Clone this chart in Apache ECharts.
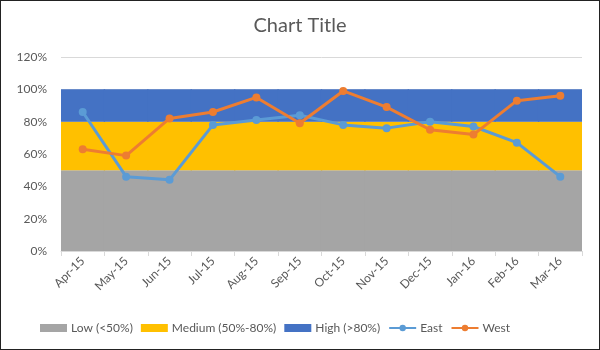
<!DOCTYPE html>
<html>
<head>
<meta charset="utf-8">
<script src="https://cdn.jsdelivr.net/npm/echarts@6/dist/echarts.min.js"></script>
<style>
  html, body { margin: 0; padding: 0; background: #fff; }
  #chart { width: 598px; height: 348px; border: 1px solid #222; background: #fff; }
</style>
</head>
<body>
<div id="chart"></div>
<script>
// Months on the category axis
const months = ['Apr-15', 'May-15', 'Jun-15', 'Jul-15', 'Aug-15', 'Sep-15',
                'Oct-15', 'Nov-15', 'Dec-15', 'Jan-16', 'Feb-16', 'Mar-16'];

// Background bands (stacked): 0-50%, 50-80%, 80-100%
const lowBand = [0.5, 0.5, 0.5, 0.5, 0.5, 0.5, 0.5, 0.5, 0.5, 0.5, 0.5, 0.5];
const mediumBand = [0.3, 0.3, 0.3, 0.3, 0.3, 0.3, 0.3, 0.3, 0.3, 0.3, 0.3, 0.3];
const highBand = [0.2, 0.2, 0.2, 0.2, 0.2, 0.2, 0.2, 0.2, 0.2, 0.2, 0.2, 0.2];

// Regional scores
const east = [0.86, 0.46, 0.44, 0.78, 0.81, 0.84, 0.78, 0.76, 0.80, 0.77, 0.67, 0.46];
const west = [0.63, 0.59, 0.82, 0.86, 0.95, 0.79, 0.99, 0.89, 0.75, 0.72, 0.93, 0.96];

// Value axis ticks
const yTicks = { min: 0, max: 1.2, interval: 0.2 };

const FONT = 'Lato, "Open Sans", sans-serif';
const TEXT = '#595959';

const chart = echarts.init(document.getElementById('chart'), null, { renderer: 'canvas' });

// Stacked columns slightly wider than a category so neighbours overlap with no seams
function band(name, data, color) {
  return {
    name, type: 'bar', stack: 'bands', data,
    barWidth: '103%',
    itemStyle: { color },
    emphasis: { disabled: true },
    silent: true
  };
}

function line(name, data, color) {
  return {
    name, type: 'line', data,
    symbol: 'circle', symbolSize: 8,
    lineStyle: { width: 3, color },
    itemStyle: { color },
    z: 5
  };
}

chart.setOption({
  animation: false,
  title: {
    text: 'Chart Title',
    left: 'center', top: 10,
    textStyle: { fontFamily: FONT, fontSize: 20, fontWeight: 'normal', color: TEXT }
  },
  legend: {
    bottom: 10,
    left: 34,
    itemWidth: 27, itemHeight: 8, itemGap: 8,
    textStyle: { fontFamily: FONT, fontSize: 12, color: TEXT, padding: [0, 0, 0, -1] },
    data: [
      { name: 'Low (<50%)', icon: 'rect' },
      { name: 'Medium (50%-80%)', icon: 'rect' },
      { name: 'High (>80%)', icon: 'rect' },
      'East', 'West'
    ]
  },
  grid: { left: 60, right: 17, top: 56, bottom: 98 },
  xAxis: {
    type: 'category',
    data: months,
    boundaryGap: true,
    splitLine: { show: false },
    axisLine: { lineStyle: { color: '#D9D9D9' } },
    axisTick: { show: true, length: 5, lineStyle: { color: '#D9D9D9' } },
    axisLabel: { rotate: 45, fontFamily: FONT, fontSize: 12, color: TEXT, margin: 8 }
  },
  yAxis: {
    type: 'value',
    min: yTicks.min, max: yTicks.max, interval: yTicks.interval,
    axisLine: { show: false },
    axisTick: { show: false },
    splitLine: { lineStyle: { color: '#D9D9D9' } },
    axisLabel: {
      fontFamily: FONT, fontSize: 12, color: TEXT, margin: 14,
      formatter: v => Math.round(v * 100) + '%'
    }
  },
  series: [
    band('Low (<50%)', lowBand, '#A5A5A5'),
    band('Medium (50%-80%)', mediumBand, '#FFC000'),
    band('High (>80%)', highBand, '#4472C4'),
    line('East', east, '#5B9BD5'),
    line('West', west, '#ED7D31')
  ]
});
</script>
</body>
</html>
